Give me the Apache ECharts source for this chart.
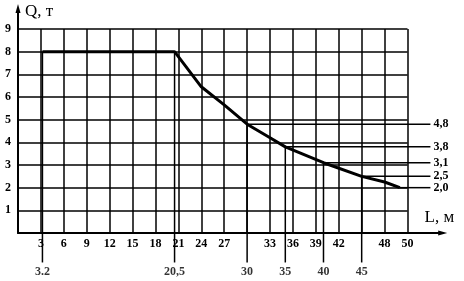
<!DOCTYPE html>
<html><head><meta charset="utf-8">
<script src="https://cdn.jsdelivr.net/npm/echarts@6/dist/echarts.min.js"></script>
<style>html,body{margin:0;padding:0;background:#fff}#c{width:464px;height:281px}</style>
</head><body><div id="c"></div>
<script>
// ---- data ----
const curveL = [3.2, 20.5, 24, 27, 30, 33, 35, 40, 45, 48, 50];
const curveQ = [8, 8, 6.45, 5.65, 4.8, 4.2, 3.8, 3.1, 2.5, 2.25, 2.0];
const dropL = [3.2, 20.5, 30, 35, 40, 45];
const dropQ = [8, 8, 4.8, 3.8, 3.1, 2.5];
const dropText = ['3.2', '20,5', '30', '35', '40', '45'];
const leadL = [30, 35, 40, 45, 50];
const leadQ = [4.8, 3.8, 3.1, 2.5, 2.0];
const leadText = ['4,8', '3,8', '3,1', '2,5', '2,0'];
const xTickValues = [3, 6, 9, 12, 15, 18, 21, 24, 27, 33, 36, 39, 42, 48, 51];
const xTickText = ['3', '6', '9', '12', '15', '18', '21', '24', '27', '33', '36', '39', '42', '48', '50'];
const yTickValues = [1, 2, 3, 4, 5, 6, 7, 8, 9];
const yTickText = ['1', '2', '3', '4', '5', '6', '7', '8', '9'];

// ---- layout constants (axis units) ----
const X_MAX = 51, Y_MAX = 9;
const DROP_BOTTOM = -1.3, LEAD_END = 54;
const X_ARROW = 56.2, Y_ARROW = 10.1;

const FONT = 'Liberation Serif';
const INK = '#000';
const LABEL_FONT = 'bold 12px "Liberation Serif"';

const series = [];
// load curve
series.push({
  type: 'line', data: curveL.map((l, i) => [l, curveQ[i]]),
  symbol: 'none', lineStyle: { color: INK, width: 3 }, z: 6, animation: false
});
// vertical drop lines (extend below the axis)
dropL.forEach((l, i) => {
  series.push({
    type: 'line', clip: false, symbol: 'none', animation: false,
    data: [[l, dropQ[i]], [l, DROP_BOTTOM]],
    lineStyle: { color: INK, width: 1.5 }, z: 4
  });
});
// lower-row labels under the drop lines
series.push({
  type: 'scatter', clip: false, animation: false, symbolSize: 1,
  itemStyle: { color: 'rgba(0,0,0,0)' },
  data: dropL.map((l, i) => ({ value: [l, DROP_BOTTOM], label: { formatter: dropText[i] } })),
  label: { show: true, position: 'bottom', distance: 3,
    fontFamily: FONT, fontWeight: 'bold', fontSize: 12, color: INK }
});
// horizontal leader lines to the right with their value labels
series.push({
  type: 'custom', clip: false, animation: false, z: 4,
  data: leadL.map((l, i) => [l, leadQ[i], i]),
  renderItem: (params, api) => {
    const p0 = api.coord([api.value(0), api.value(1)]);
    const p1 = api.coord([LEAD_END, api.value(1)]);
    return {
      type: 'group',
      children: [
        { type: 'line', shape: { x1: p0[0], y1: p0[1], x2: p1[0], y2: p1[1] },
          style: { stroke: INK, lineWidth: 1.5 } },
        { type: 'text', x: p1[0] + 3, y: p1[1],
          style: { text: leadText[api.value(2)], fill: INK, font: LABEL_FONT,
            align: 'left', verticalAlign: 'middle', textAlign: 'left', textVerticalAlign: 'middle' } }
      ]
    };
  }
});
// axis extensions with arrowheads
series.push({
  type: 'custom', clip: false, animation: false, z: 8,
  data: [[0, 0]],
  renderItem: (params, api) => {
    const o = api.coord([0, 0]);
    const xe = api.coord([X_ARROW, 0]);
    const ye = api.coord([0, Y_ARROW]);
    return {
      type: 'group',
      children: [
        { type: 'line', shape: { x1: o[0], y1: o[1], x2: xe[0] - 4, y2: xe[1] }, style: { stroke: INK, lineWidth: 2 } },
        { type: 'line', shape: { x1: o[0], y1: o[1], x2: ye[0], y2: ye[1] + 4 }, style: { stroke: INK, lineWidth: 2 } },
        { type: 'polygon', shape: { points: [[xe[0], xe[1]], [xe[0] - 9, xe[1] - 2.5], [xe[0] - 9, xe[1] + 2.5]] }, style: { fill: INK } },
        { type: 'polygon', shape: { points: [[ye[0], ye[1]], [ye[0] - 2.5, ye[1] + 9], [ye[0] + 2.5, ye[1] + 9]] }, style: { fill: INK } }
      ]
    };
  }
});

const chart = echarts.init(document.getElementById('c'), null, { renderer: 'canvas' });
chart.setOption({
  animation: false,
  backgroundColor: '#fff',
  grid: { left: 18, right: 56.5, top: 29, bottom: 48, containLabel: false, outerBoundsMode: 'none' },
  xAxis: {
    type: 'value', min: 0, max: X_MAX, interval: 3,
    name: 'L, м', nameLocation: 'end', nameGap: 17,
    nameTextStyle: { fontFamily: FONT, fontSize: 17, color: INK, verticalAlign: 'bottom', align: 'left', padding: [0, 0, 7, 0] },
    axisLine: { show: true, lineStyle: { color: INK, width: 2 } },
    axisTick: { show: false },
    axisLabel: {
      margin: 5, fontFamily: FONT, fontWeight: 'bold', fontSize: 12, color: INK,
      showMinLabel: true, showMaxLabel: true, hideOverlap: false,
      formatter: v => { const k = xTickValues.indexOf(v); return k < 0 ? '' : xTickText[k]; }
    },
    splitLine: { show: true, lineStyle: { color: INK, width: 1.5 } }
  },
  yAxis: {
    type: 'value', min: 0, max: Y_MAX, interval: 1,
    name: 'Q, т', nameLocation: 'end', nameGap: 9,
    nameTextStyle: { fontFamily: FONT, fontSize: 17, color: INK, align: 'left', padding: [0, 0, 0, 7] },
    axisLine: { show: true, lineStyle: { color: INK, width: 2 } },
    axisTick: { show: false },
    axisLabel: {
      margin: 7, fontFamily: FONT, fontWeight: 'bold', fontSize: 12, color: INK,
      formatter: v => { const k = yTickValues.indexOf(v); return k < 0 ? '' : yTickText[k]; }
    },
    splitLine: { show: true, lineStyle: { color: INK, width: 1.5 } }
  },
  series: series
});
</script></body></html>
